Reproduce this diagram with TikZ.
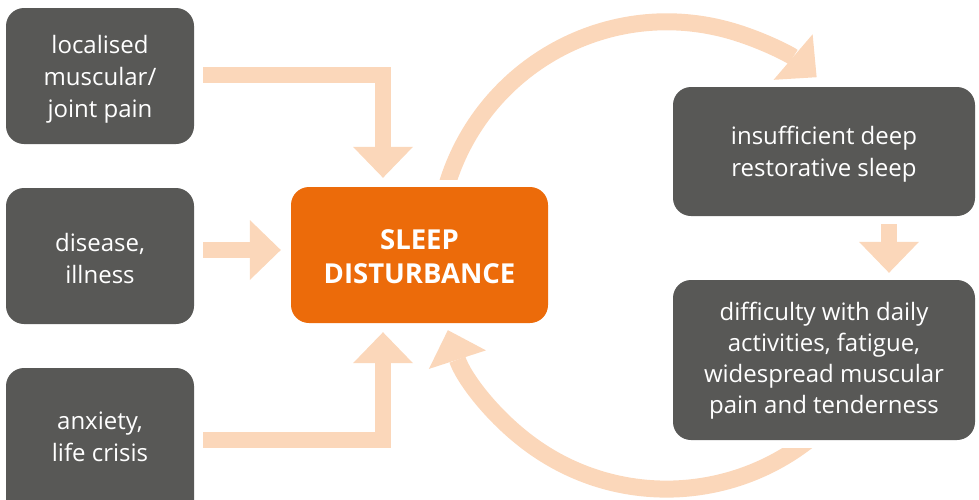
\documentclass[tikz,border=0pt]{standalone}
\usepackage{fontspec}
\setmainfont{Open Sans}
\usetikzlibrary{arrows.meta,calc}
\definecolor{boxgray}{RGB}{88,88,86}
\definecolor{sleeporange}{RGB}{236,107,10}
\definecolor{peach}{RGB}{251,215,186}
\begin{document}
\begin{tikzpicture}[x=1pt,y=-1pt,
  gbox/.style={fill=boxgray, rounded corners=18pt, inner sep=0pt},
  obox/.style={fill=sleeporange, rounded corners=18pt, inner sep=0pt},
  gtext/.style={text=white, align=center, inner sep=0pt,
    font=\fontsize{24}{32}\selectfont},
  otext/.style={text=white, align=center, inner sep=0pt,
    font=\bfseries\fontsize{27.5}{34}\selectfont},
  fat/.style={draw=peach, line width=16pt,
    -{Triangle[length=31pt,width=60pt,line width=0pt]}},
]
\useasboundingbox (0,0) rectangle (979,499);

% boxes
\node[gbox, minimum width=188pt, minimum height=136pt] (L1) at (100,76) {};
\node[gtext] (L1t) at ($(L1)+(0,3)$) {localised\\muscular/\\joint pain};
\node[gbox, minimum width=188pt, minimum height=136pt] (L2) at (100,256) {};
\node[gtext] (L2t) at ($(L2)+(0,2)$) {disease,\\illness};
\node[gbox, minimum width=188pt, minimum height=152pt] (L3) at (100,444) {};
\node[gtext] (L3t) at (100,437) {anxiety,\\life crisis};
\node[obox, minimum width=257pt, minimum height=136pt] (C) at (419.5,255) {};
\node[otext] (Ct) at ($(C)+(0,2)$) {SLEEP\\DISTURBANCE};
\node[gbox, minimum width=302pt, minimum height=129pt] (R1) at (824,151.5) {};
\node[gtext] (R1t) at ($(R1)+(0,3)$) {insufficient deep\\restorative sleep};
\node[gbox, minimum width=302pt, minimum height=160pt] (R2) at (824,360) {};
\node[gtext, font=\fontsize{24}{31}\selectfont] (R2t) at ($(R2)+(0,1)$)
  {difficulty with daily\\activities, fatigue,\\widespread muscular\\pain and tenderness};

% straight arrows
\draw[fat] ([xshift=9pt,yshift=1pt]L1.east) -| ($(C.north)+(-36.5,-9)$);
\draw[fat] ([xshift=9pt,yshift=6pt]L2.east) -- ([xshift=-10pt,yshift=5pt]C.west);
\draw[fat] ($(L3.north east)+(9,72)$) -| ($(C.south)+(-36.5,9)$);
\draw[fat] ($(R1.south)+(65,8)$) -- ($(R2.north)+(65,-7)$);

% top curved arrow
\begin{scope}
  \clip (0,0) rectangle (979,179);
  \coordinate (tstart) at ($(C.north)+(25.3,5.5)$);
  \draw[fat, line width=17pt] (tstart) arc[start angle=165, end angle=49.4, radius=230pt];
\end{scope}

% bottom curved arrow
\begin{scope}
  \clip (0,0) -- (600,0) -- (600,448) -- (979,448) -- (979,499) -- (0,499) -- cycle;
  \coordinate (bstart) at ($(R2.center)+(31,31)$);
  \draw[fat, line width=17pt] (bstart) arc[start angle=-35, end angle=-162, radius=230pt];
\end{scope}
\end{tikzpicture}
\end{document}
